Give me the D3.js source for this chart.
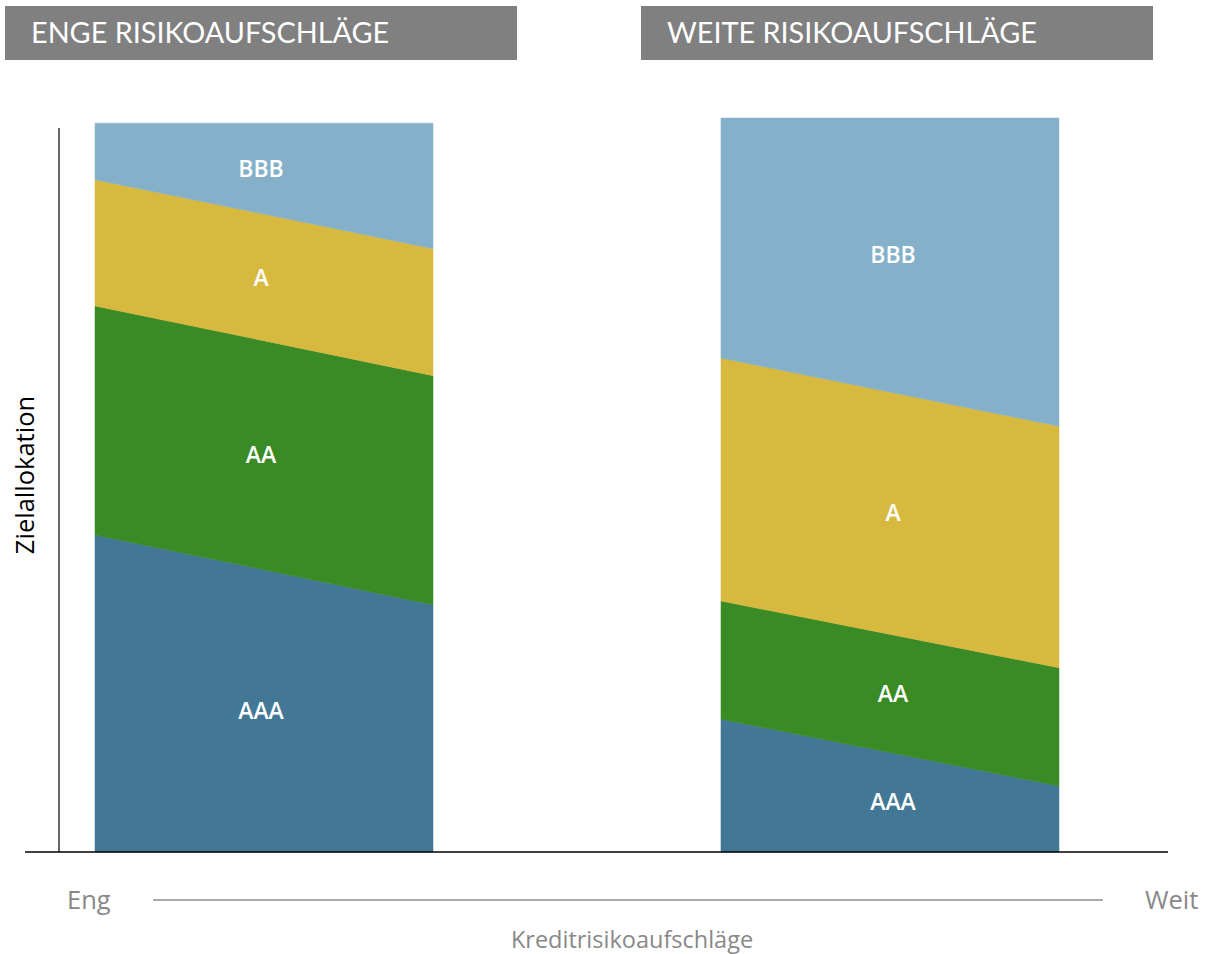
<!DOCTYPE html>
<html>
<head>
<meta charset="utf-8">
<script src="https://cdn.jsdelivr.net/npm/d3@7"></script>
<style>
  body { margin: 0; background: #fff; }
  text { font-family: "Open Sans", Lato, sans-serif; }
</style>
</head>
<body>
<div id="chart"></div>
<script>
var blocks = ['Eng', 'Weit'];
var headers = ['ENGE RISIKOAUFSCHLÄGE', 'WEITE RISIKOAUFSCHLÄGE'];
var ratings = ['AAA', 'AA', 'A', 'BBB'];
var colors = ['#427895', '#3a8a25', '#d8b940', '#84b1c9'];

// share of each rating (AAA, AA, A, BBB) at the left and right edge of each block
var engLeft = [43.2, 31.2, 17.2, 7.7];
var engRight = [33.7, 31.2, 17.3, 17.1];
var weitLeft = [18.1, 16.1, 33.1, 32.7];
var weitRight = [9.0, 16.1, 32.9, 42.0];

var width = 1205, height = 954;

var svg = d3.select("#chart").append("svg")
    .attr("width", width)
    .attr("height", height);

var x = d3.scaleBand()
    .domain(blocks)
    .range([95, 1059])
    .paddingInner(0.46)
    .paddingOuter(0);

var y = d3.scaleLinear()
    .domain([0, 100])
    .range([852, 118]);

var edges = [[engLeft, engRight], [weitLeft, weitRight]];

//header boxes
var headX = [5, 641];
headers.forEach(function (h, i) {
    svg.append("rect")
        .attr("x", headX[i]).attr("y", 6)
        .attr("width", 512).attr("height", 54)
        .attr("fill", "#808080");
    svg.append("text")
        .attr("x", headX[i] + 26).attr("y", 43)
        .attr("fill", "#fff")
        .style("font-family", "Lato, sans-serif")
        .style("font-size", "28.8px")
        .text(h);
});

blocks.forEach(function (b, bi) {
    var rows = edges[bi].map(function (vals, e) {
        var r = {edge: e};
        ratings.forEach(function (k, j) { r[k] = vals[j]; });
        return r;
    });
    var series = d3.stack().keys(ratings)(rows);

    var ex = d3.scaleLinear().domain([0, 1]).range([x(b), x(b) + x.bandwidth()]);

    var area = d3.area()
        .x(function (d) { return ex(d.data.edge); })
        .y0(function (d) { return y(d[0]); })
        .y1(function (d) { return y(d[1]); });

    var g = svg.append("g");
    g.selectAll("path")
        .data(series)
        .enter()
        .append("path")
        .attr("d", area)
        .attr("fill", function (d, i) { return colors[i]; })
        .attr("stroke", function (d, i) { return colors[i]; })
        .attr("stroke-width", 0.5);

    g.selectAll("text")
        .data(series)
        .enter()
        .append("text")
        .attr("x", ex(0.5) + (bi == 0 ? -3 : 3))
        .attr("y", function (d) {
            var lo = (d[0][0] + d[1][0]) / 2, hi = (d[0][1] + d[1][1]) / 2;
            return y((lo + hi) / 2);
        })
        .attr("dy", "0.35em")
        .attr("text-anchor", "middle")
        .attr("fill", "#fff")
        .style("font-size", "23px")
        .style("font-weight", "600")
        .text(function (d) { return d.key; });
});

// axes
svg.append("line")
    .attr("x1", 59).attr("x2", 59)
    .attr("y1", 128).attr("y2", y(0))
    .attr("stroke", "#000").attr("stroke-width", 1.2);
svg.append("line")
    .attr("x1", 25).attr("x2", 1168)
    .attr("y1", y(0)).attr("y2", y(0))
    .attr("stroke", "#000").attr("stroke-width", 1.5);

svg.append("text")
    .attr("transform", "translate(34,475) rotate(-90)")
    .attr("text-anchor", "middle")
    .attr("fill", "#000")
    .style("font-size", "25.5px")
    .text("Zielallokation");

// spread scale below
svg.append("line")
    .attr("x1", 153).attr("x2", 1103)
    .attr("y1", 900).attr("y2", 900)
    .attr("stroke", "#aaa").attr("stroke-width", 2);
svg.append("text")
    .attr("x", 67).attr("y", 909)
    .attr("fill", "#888")
    .style("font-size", "25.5px")
    .text("Eng");
svg.append("text")
    .attr("x", 1145).attr("y", 909)
    .attr("fill", "#888")
    .style("font-size", "25.5px")
    .text("Weit");
svg.append("text")
    .attr("x", 632).attr("y", 948)
    .attr("text-anchor", "middle")
    .attr("fill", "#888")
    .style("font-size", "23.5px")
    .text("Kreditrisikoaufschläge");
</script>
</body>
</html>
